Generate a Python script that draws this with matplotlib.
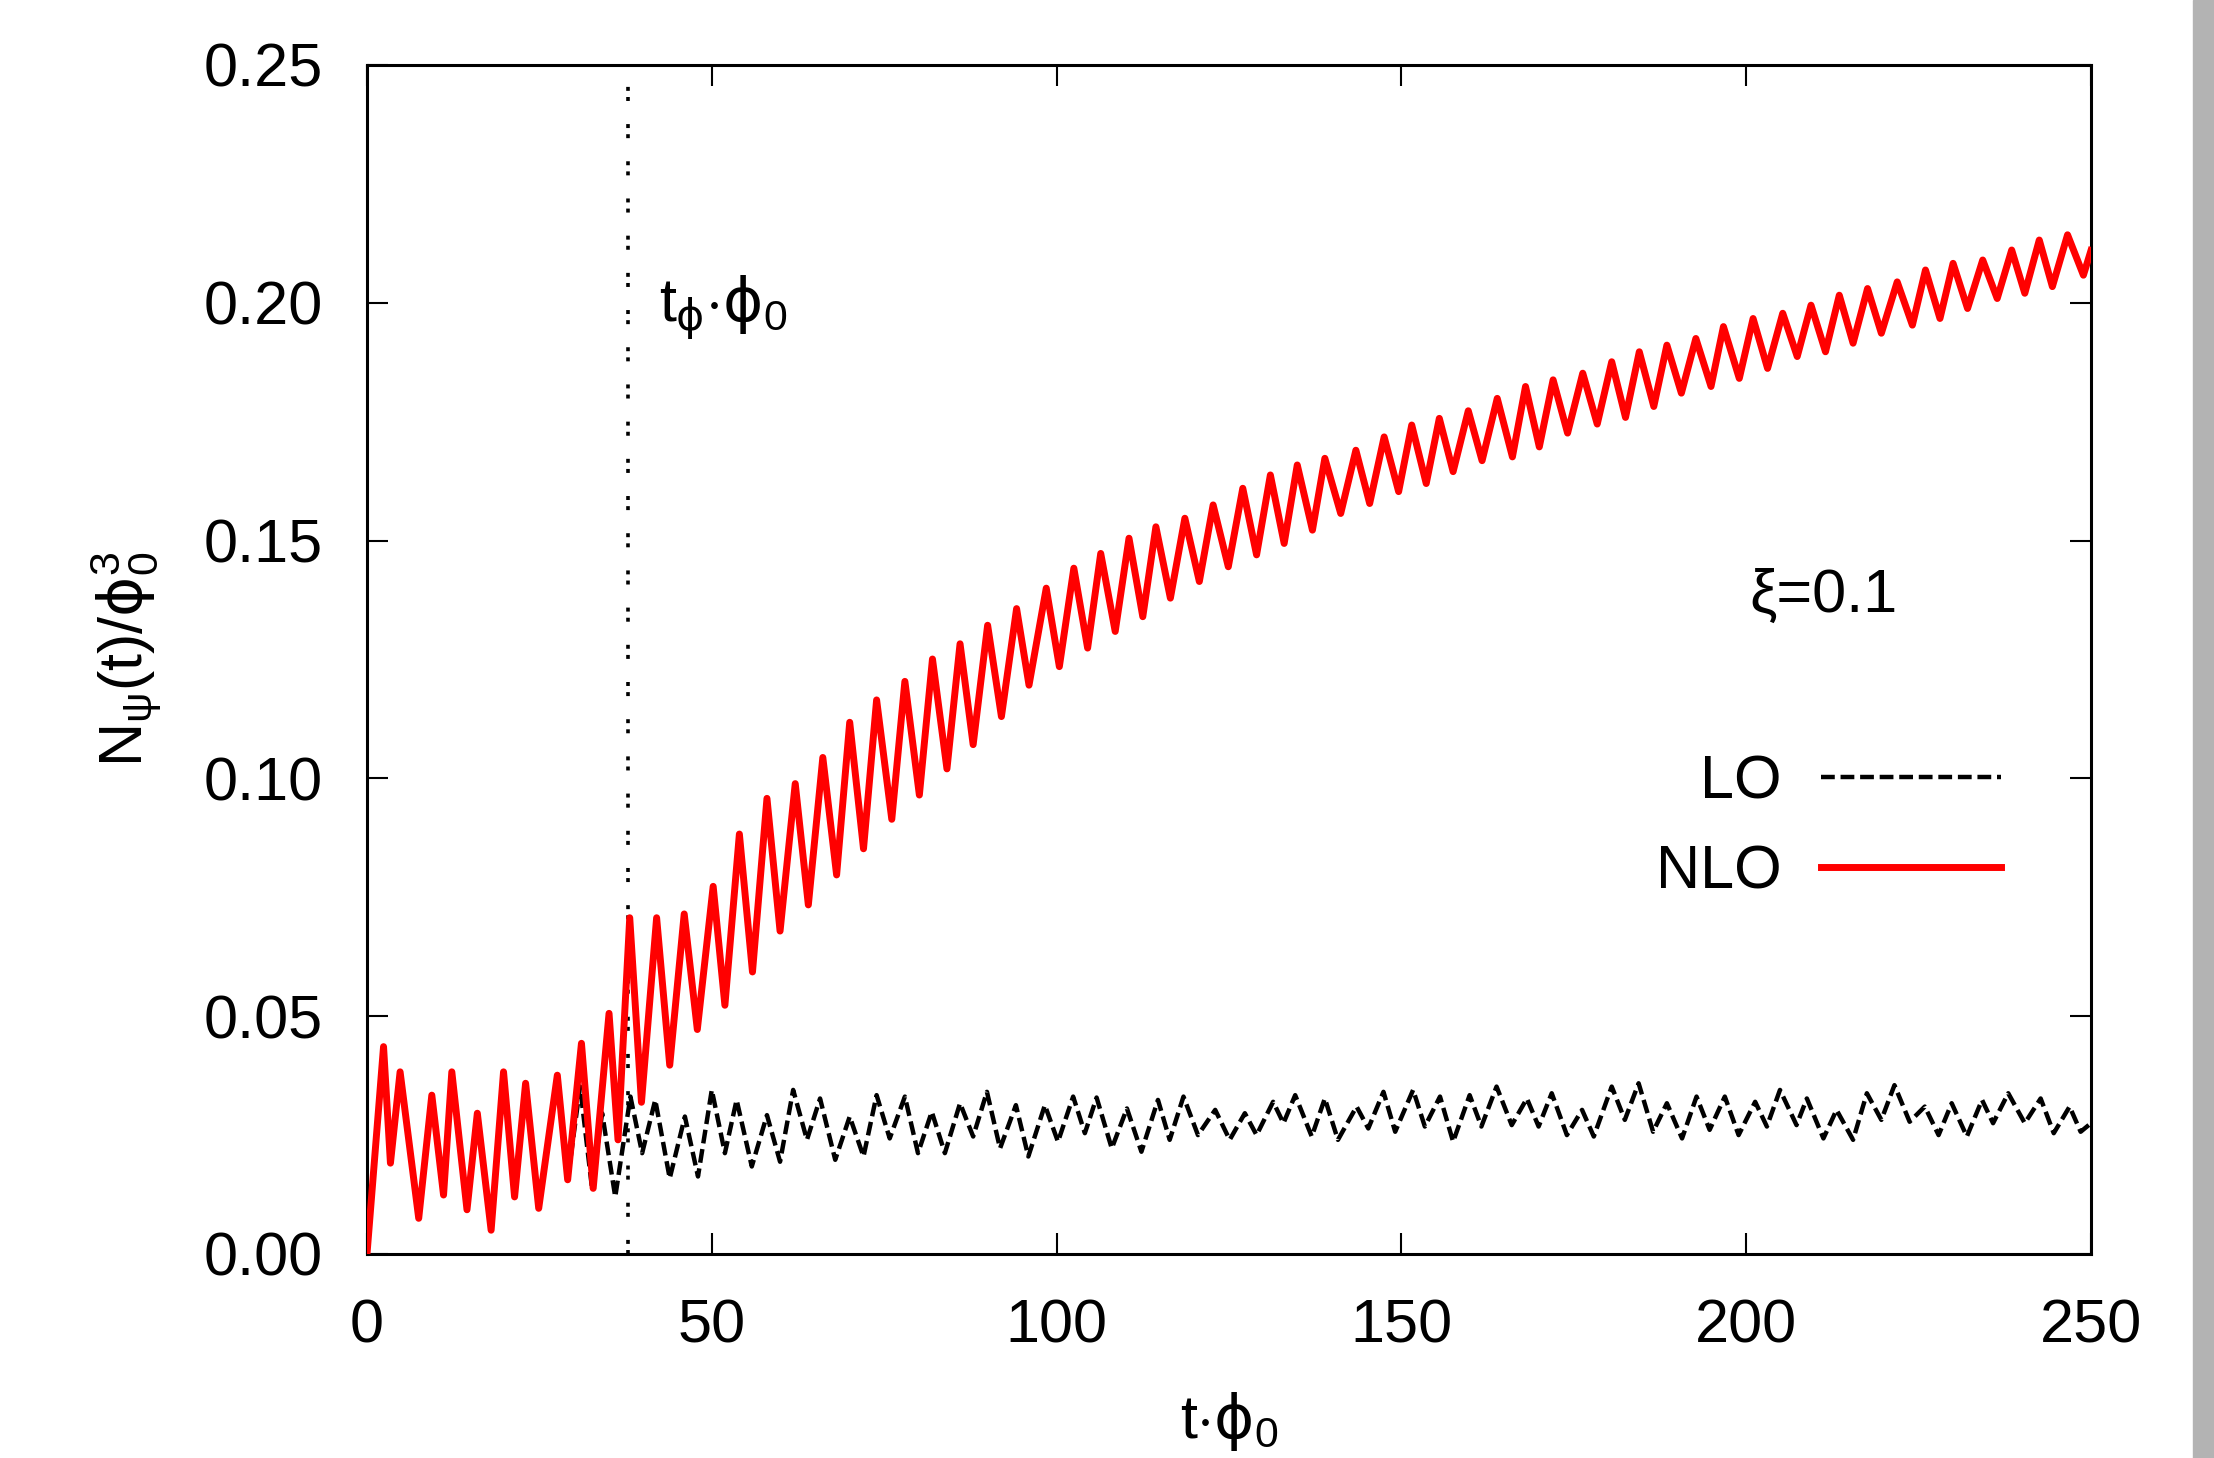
import matplotlib
matplotlib.use("Agg")
import matplotlib.pyplot as plt
from matplotlib.patches import Rectangle
from matplotlib.ticker import FormatStrFormatter

plt.rcParams['font.family'] = ['Liberation Sans', 'DejaVu Sans']
plt.rcParams['mathtext.fontset'] = 'custom'
plt.rcParams['mathtext.rm'] = 'Liberation Sans'
plt.rcParams['mathtext.it'] = 'Liberation Sans'
plt.rcParams['mathtext.bf'] = 'Liberation Sans:bold'
plt.rcParams['mathtext.sf'] = 'DejaVu Sans'

# NLO curve: successive peaks and troughs
nlo_t = [0.0, 2.4, 3.4, 4.8, 7.5, 9.4, 11.1, 12.3, 14.5, 16.0, 18.0, 19.8, 21.4, 23.0,
         24.9, 27.6, 29.1, 31.1, 32.8, 35.1, 36.4, 38.1, 39.8, 42.0, 43.9, 46.0, 47.9,
         50.2, 51.9, 54.0, 55.9, 58.0, 59.9, 62.1, 64.0, 66.1, 68.1, 70.0, 72.0, 73.9,
         76.1, 78.0, 80.1, 82.0, 84.1, 86.0, 87.9, 90.0, 92.0, 94.2, 96.0, 98.5, 100.4,
         102.5, 104.5, 106.4, 108.5, 110.5, 112.5, 114.4, 116.5, 118.6, 120.7, 122.7,
         124.9, 127.0, 129.0, 131.0, 133.0, 134.9, 137.1, 138.9, 141.2, 143.4, 145.4,
         147.5, 149.6, 151.5, 153.6, 155.5, 157.5, 159.7, 161.7, 163.9, 166.1, 168.0,
         170.0, 172.0, 174.1, 176.3, 178.4, 180.5, 182.5, 184.5, 186.6, 188.5, 190.6,
         192.7, 194.9, 196.7, 199.0, 201.0, 203.1, 205.3, 207.4, 209.4, 211.5, 213.5,
         215.5, 217.6, 219.6, 221.9, 224.1, 226.0, 228.1, 230.0, 232.1, 234.3, 236.4,
         238.5, 240.4, 242.5, 244.4, 246.6, 248.9, 250.0]
nlo_v = [0.0, 0.0436, 0.0191, 0.0383, 0.0075, 0.0334, 0.0124, 0.0383, 0.0093, 0.0296,
         0.0050, 0.0383, 0.0120, 0.0359, 0.0096, 0.0376, 0.0156, 0.0443, 0.0138, 0.0506,
         0.0240, 0.0707, 0.0319, 0.0707, 0.0397, 0.0715, 0.0472, 0.0773, 0.0523, 0.0883,
         0.0593, 0.0958, 0.0679, 0.0989, 0.0734, 0.1044, 0.0797, 0.1118, 0.0852, 0.1165,
         0.0914, 0.1204, 0.0965, 0.1251, 0.1020, 0.1283, 0.1071, 0.1322, 0.1130, 0.1357,
         0.1196, 0.1400, 0.1235, 0.1442, 0.1274, 0.1473, 0.1309, 0.1505, 0.1340, 0.1529,
         0.1379, 0.1547, 0.1414, 0.1575, 0.1445, 0.1610, 0.1470, 0.1638, 0.1494, 0.1659,
         0.1522, 0.1673, 0.1557, 0.1690, 0.1578, 0.1718, 0.1603, 0.1743, 0.1620, 0.1757,
         0.1645, 0.1773, 0.1668, 0.1799, 0.1676, 0.1824, 0.1697, 0.1838, 0.1726, 0.1852,
         0.1745, 0.1876, 0.1759, 0.1897, 0.1782, 0.1911, 0.1810, 0.1925, 0.1824, 0.1950,
         0.1841, 0.1967, 0.1862, 0.1978, 0.1887, 0.1995, 0.1897, 0.2016, 0.1915, 0.2030,
         0.1936, 0.2044, 0.1953, 0.2069, 0.1967, 0.2083, 0.1988, 0.2090, 0.2009, 0.2111,
         0.2020, 0.2132, 0.2034, 0.2143, 0.2058, 0.2110]

# LO curve follows NLO until t~29, then its own peaks and troughs
lo_shared = 17
lo_t_tail = [30.9, 32.6, 34.1, 36.0, 38.2, 39.9, 41.8, 43.9, 46.1, 48.0, 50.0, 51.9, 53.6,
             55.8, 58.0, 59.9, 61.8, 63.8, 65.7, 67.9, 70.0, 72.0, 73.9, 75.8, 78.0, 79.9,
             81.9, 83.8, 86.0, 87.9, 89.9, 91.8, 94.1, 95.9, 98.3, 100.2, 102.4, 104.1,
             105.8, 108.0, 110.2, 112.3, 114.7, 116.4, 118.4, 120.5, 123.0, 125.1, 127.3,
             129.0, 131.4, 132.9, 134.6, 137.0, 138.9, 140.8, 143.5, 145.2, 147.4, 149.1,
             151.7, 153.4, 155.6, 157.5, 159.9, 161.6, 163.8, 166.0, 168.2, 169.9, 171.8,
             174.0, 176.2, 177.9, 180.5, 182.4, 184.4, 186.5, 188.5, 190.7, 192.8, 194.7,
             196.9, 198.9, 201.3, 203.0, 204.9, 207.3, 208.8, 211.2, 213.1, 215.5, 217.5,
             219.6, 221.5, 223.7, 225.9, 227.9, 229.8, 232.0, 234.2, 235.8, 238.0, 240.4,
             242.7, 244.6, 246.9, 248.5, 250.0]
lo_v_tail = [0.0352, 0.0142, 0.0296, 0.0120, 0.0331, 0.0212, 0.0324, 0.0159, 0.0289, 0.0163,
             0.0345, 0.0212, 0.0324, 0.0184, 0.0292, 0.0194, 0.0345, 0.0240, 0.0327, 0.0198,
             0.0289, 0.0205, 0.0334, 0.0243, 0.0331, 0.0212, 0.0299, 0.0212, 0.0317, 0.0247,
             0.0341, 0.0222, 0.0313, 0.0205, 0.0313, 0.0236, 0.0331, 0.0254, 0.0329, 0.0222,
             0.0306, 0.0215, 0.0324, 0.0240, 0.0331, 0.0250, 0.0303, 0.0240, 0.0296, 0.0250,
             0.0320, 0.0275, 0.0334, 0.0247, 0.0327, 0.0240, 0.0310, 0.0264, 0.0341, 0.0257,
             0.0345, 0.0268, 0.0331, 0.0236, 0.0334, 0.0268, 0.0352, 0.0271, 0.0327, 0.0268,
             0.0338, 0.0250, 0.0303, 0.0247, 0.0352, 0.0282, 0.0359, 0.0257, 0.0317, 0.0243,
             0.0331, 0.0261, 0.0331, 0.0250, 0.0320, 0.0268, 0.0345, 0.0271, 0.0327, 0.0243,
             0.0303, 0.0240, 0.0338, 0.0282, 0.0355, 0.0278, 0.0310, 0.0250, 0.0317, 0.0247,
             0.0324, 0.0275, 0.0338, 0.0275, 0.0327, 0.0254, 0.0310, 0.0257, 0.0275]
lo_t = nlo_t[:lo_shared] + lo_t_tail
lo_v = nlo_v[:lo_shared] + lo_v_tail

t_phi = 37.8
xi_label = 'ξ=0.1'
xticks = [0, 50, 100, 150, 200, 250]
yticks = [0.00, 0.05, 0.10, 0.15, 0.20, 0.25]

fig = plt.figure(figsize=(22.14, 14.58), dpi=100)
ax = fig.add_axes([0.16576, 0.13992, 0.77868, 0.81550])

ax.axvline(t_phi, color='black', lw=2.6, linestyle=(0, (1.1, 1.7, 1.1, 6.4)), zorder=1)
ax.plot(lo_t, lo_v, color='black', lw=3.2, linestyle=(0, (3.1, 1.3)), label='LO', zorder=2)
ax.plot(nlo_t, nlo_v, color='#ff0000', lw=5.0, label='NLO', zorder=3)

ax.set_xlim(0, 250)
ax.set_ylim(0, 0.25)
ax.set_xticks(xticks)
ax.set_yticks(yticks)
ax.yaxis.set_major_formatter(FormatStrFormatter('%.2f'))
ax.tick_params(direction='in', length=15, width=1.5, top=True, right=True,
               labelsize=44, pad=32)
for s in ax.spines.values():
    s.set_linewidth(2.2)

ax.set_xlabel(r'$t{\cdot}\mathsf{ϕ}_0$', fontsize=44)
ax.xaxis.label.set_va('baseline')
ax.xaxis.set_label_coords(0.5, -0.155)
ax.set_ylabel(r'$N_ψ(t)/\mathsf{ϕ}_0^3$', fontsize=44)
ax.yaxis.set_label_coords(-0.118, 0.5)

ax.text(42.3, 0.196, r'$t_\mathsf{ϕ}{\cdot}\mathsf{ϕ}_0$', fontsize=44, ha='left', va='baseline')
ax.text(200.4, 0.135, xi_label, fontsize=44, ha='left', va='baseline')

leg = ax.legend(loc='upper right', bbox_to_anchor=(0.948, 0.420), frameon=False,
                markerfirst=False, fontsize=44, handlelength=2.95, handletextpad=0.65,
                labelspacing=0.53, borderpad=0, borderaxespad=0)

fig.add_artist(Rectangle((2193 / 2214, 0), 21 / 2214, 1, transform=fig.transFigure,
                         color='#b3b3b3', zorder=0))

fig.savefig('out.png', dpi=100)
